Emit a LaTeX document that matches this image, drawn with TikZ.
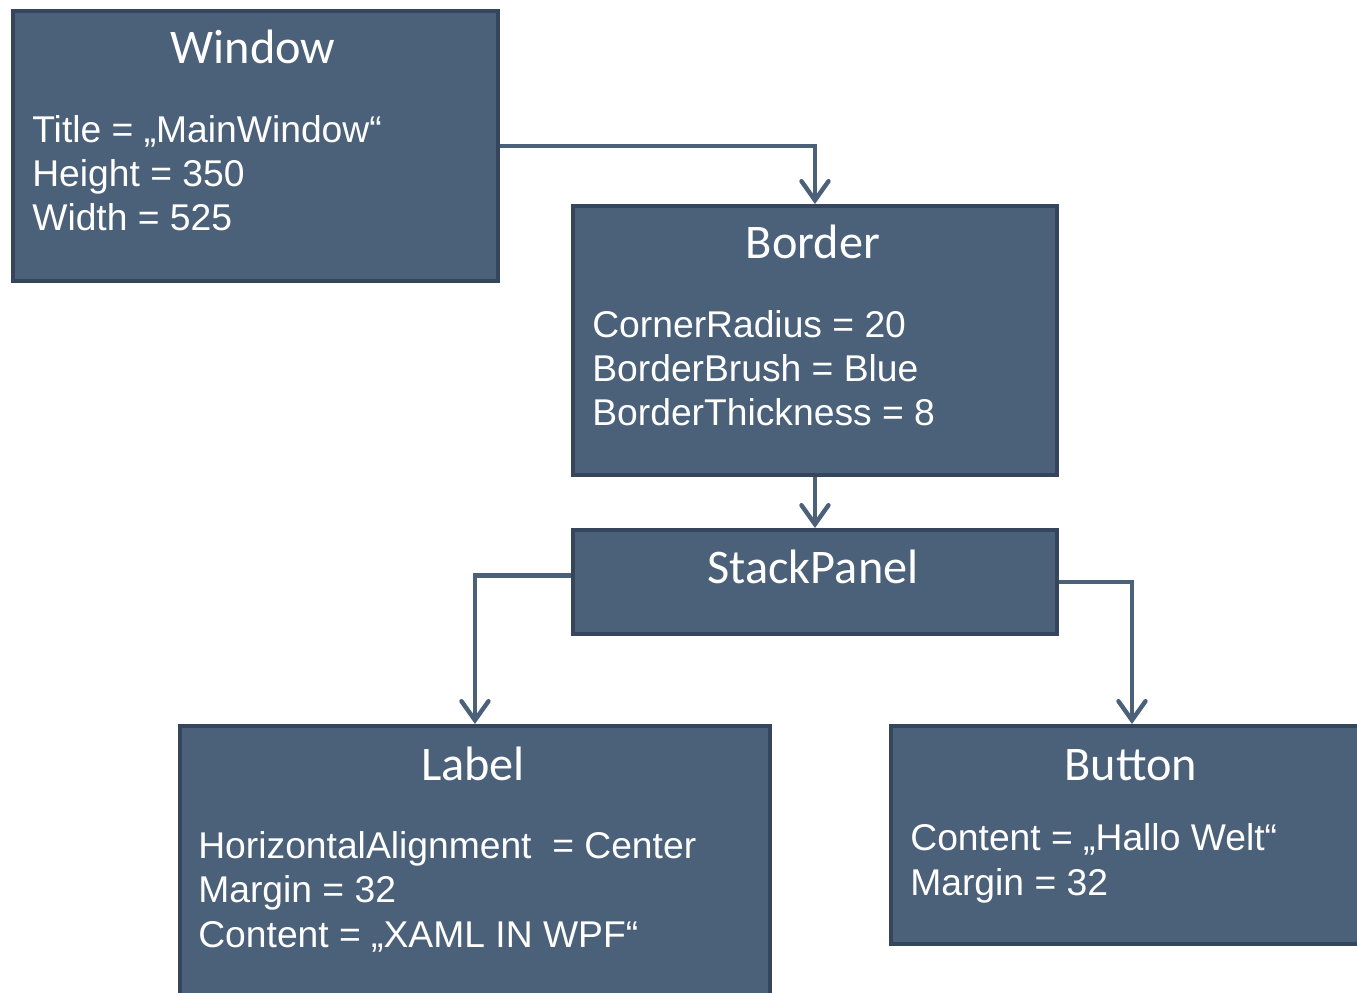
\documentclass[tikz,border=0pt]{standalone}
\usepackage{fontspec}
\setmainfont{Liberation Sans}
\newfontfamily\titlefont{Carlito}
\usetikzlibrary{arrows.meta}
\definecolor{boxfill}{RGB}{75,96,121}
\definecolor{boxline}{RGB}{53,70,92}

\begin{document}
\begin{tikzpicture}[x=0.02cm, y=-0.02cm,
	box/.style={draw=boxline, fill=boxfill, line width=2.3pt, anchor=north west, inner sep=0pt},
	title/.style={anchor=base, text=white, font=\titlefont\fontsize{27.5}{30}\selectfont},
	body/.style={anchor=base west, align=left, text=white, inner sep=0pt, font=\fontsize{21.2}{25.3}\selectfont},
	link/.style={draw=boxfill, line width=2.5pt, arrows={-Straight Barb[length=3.8mm,width=5.4mm,line cap=round]}}]
	\useasboundingbox (0,0) rectangle (1357,993);

	\node[box, minimum width=9.7cm, minimum height=5.4cm] (window) at (11,9) {};
	\node[title] (windowT) at (253,64) {Window};
	\node[body] (windowB) at (32,231) {Title = „MainWindow“\\Height = 350\\Width = 525};

	\node[box, minimum width=9.68cm, minimum height=5.38cm] (border) at (571,204) {};
	\node[title] (borderT) at (813,259) {Border};
	\node[body] (borderB) at (592,426) {CornerRadius = 20\\BorderBrush = Blue\\BorderThickness = 8};

	\node[box, minimum width=9.68cm, minimum height=2.08cm] (stack) at (571,528) {};
	\node[title] (stackT) at (813,583) {StackPanel};

	\node[box, minimum width=11.8cm, minimum height=6.2cm] (label) at (178,724) {};
	\node[title] (labelT) at (473,780) {Label};
	\node[body] (labelB) at (198,947) {HorizontalAlignment~ = Center\\Margin = 32\\Content = „XAML IN WPF“};

	\node[box, minimum width=9.64cm, minimum height=4.36cm] (button) at (889,724) {};
	\node[title] (buttonT) at (1131,780) {Button};
	\node[body] (buttonB) at (910,895) {Content = „Hallo Welt“\\Margin = 32};

	\draw[link] (window.east) -| (border.north);
	\draw[link] (border.south) -- (stack.north);
	\draw[link] ([yshift=0.13cm]stack.west) -| (label.north);
	\draw[link] (stack.east) -| (button.north);
\end{tikzpicture}
\end{document}
